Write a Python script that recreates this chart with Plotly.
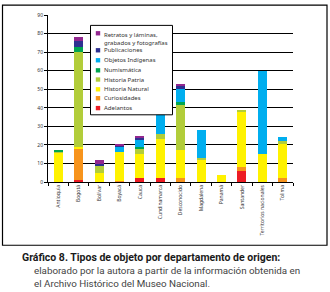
import plotly.graph_objects as go

categories = ["Antioquia", "Bogotá", "Bolívar", "Boyacá", "Cauca", "Cundinamarca",
              "Desconocido", "Magdalena", "Panamá", "Santander",
              "Territorios nacionales", "Tolima"]

adelantos     = [0, 1, 0, 0, 2, 2, 0, 0, 0, 6, 0, 0]
curiosidades  = [0, 17, 0, 0.5, 0, 0, 2, 0, 0, 2, 0, 2]
hist_natural  = [16, 1, 5, 15.5, 13, 21, 15, 12, 4, 30, 15, 19]
hist_patria   = [0.5, 51, 4, 0, 3, 3, 25, 1, 0, 1, 0, 1]
numismatica   = [0.5, 3, 0, 0, 1, 0, 1, 0, 0, 0, 0, 0]
objetos       = [0, 0, 0, 3, 4, 23, 7, 15, 0, 0, 45, 2]
publicaciones = [0, 3, 0.5, 0.5, 1, 0, 2, 0, 0, 0, 0, 0]
retratos      = [0, 2, 2.5, 0.5, 1, 0, 1, 0, 0, 0, 0, 0]

series_names = ["Adelantos", "Curiosidades", "Historia Natural", "Historia Patria",
                "Numismática", "Objetos Indígenas", "Publicaciones",
                "Retratos y láminas,<br>grabados y fotografías"]
series_values = [adelantos, curiosidades, hist_natural, hist_patria,
                 numismatica, objetos, publicaciones, retratos]
colors = ["#ed1c24", "#f7941d", "#fff200", "#b2cd3a",
          "#00a651", "#00aeef", "#2e3192", "#92278f"]

W, H = 330, 292
L, R, T, B = 48, 37, 13, 110
pw, ph = W - L - R, H - T - B

def px(x):
    return (x - L) / pw

def py(y):
    return (H - B - y) / ph

fig = go.Figure()
for name, vals, col in zip(series_names, series_values, colors):
    fig.add_trace(go.Bar(x=categories, y=vals, name=name,
                         marker=dict(color=col, line=dict(width=0)),
                         showlegend=False))

shapes = []
annotations = []

# outer frame
shapes.append(dict(type="rect", xref="paper", yref="paper",
                   x0=px(2.5), x1=px(327), y0=py(246), y1=py(3),
                   line=dict(color="black", width=1.2), fillcolor="rgba(0,0,0,0)",
                   layer="above"))

# manual legend box
shapes.append(dict(type="rect", xref="paper", yref="paper",
                   x0=px(90.5), x1=px(172.5), y0=py(114), y1=py(23.5),
                   line=dict(color="black", width=1), fillcolor="white",
                   layer="above"))

legend_y = [107.2, 97.2, 88.2, 78.3, 69.0, 58.8, 48.7, 31.5]
for name, col, yc in zip(series_names, colors, legend_y):
    shapes.append(dict(type="rect", xref="paper", yref="paper",
                       x0=px(95.8), x1=px(100.2), y0=py(yc + 2.2), y1=py(yc - 2.2),
                       line=dict(width=0), fillcolor=col, layer="above"))
    if "<br>" in name:
        annotations.append(dict(xref="paper", yref="paper", x=px(102), y=py(yc - 4),
                                text=name, showarrow=False, xanchor="left", yanchor="top",
                                align="left",
                                font=dict(family="Noto Sans", size=6, color="#333")))
    else:
        annotations.append(dict(xref="paper", yref="paper", x=px(102), y=py(yc),
                                text=name, showarrow=False, xanchor="left", yanchor="middle",
                                font=dict(family="Noto Sans", size=6, color="#333")))

# caption
annotations.append(dict(xref="paper", yref="paper", x=px(20), y=py(258),
                        text="<b>Gráfico 8. Tipos de objeto por departamento de origen:</b>",
                        showarrow=False, xanchor="left", yanchor="middle",
                        font=dict(family="Roboto", size=10.5, color="#1a1a1a")))
annotations.append(dict(xref="paper", yref="paper", x=px(32), y=py(272),
                        text="elaborado por la autora a partir de la información obtenida en",
                        showarrow=False, xanchor="left", yanchor="middle",
                        font=dict(family="Roboto", size=9.8, color="#444")))
annotations.append(dict(xref="paper", yref="paper", x=px(32), y=py(285),
                        text="el Archivo Histórico del Museo Nacional.",
                        showarrow=False, xanchor="left", yanchor="middle",
                        font=dict(family="Roboto", size=9.8, color="#444")))

fig.update_layout(
    width=W, height=H,
    margin=dict(l=L, r=R, t=T, b=B, pad=0),
    barmode="stack", bargap=0.56,
    plot_bgcolor="white", paper_bgcolor="white",
    shapes=shapes, annotations=annotations,
    showlegend=False,
    xaxis=dict(type="category", showline=True, linecolor="black", linewidth=1,
               ticks="outside", tickson="boundaries", ticklen=3, tickcolor="black",
               tickangle=-90, tickfont=dict(family="Noto Sans", size=5, color="#333"),
               showgrid=False, fixedrange=True),
    yaxis=dict(range=[0, 90], dtick=10, showline=True, linecolor="black", linewidth=1,
               ticks="outside", ticklen=3, tickcolor="black",
               showgrid=True, gridcolor="black", gridwidth=1, zeroline=False,
               tickfont=dict(family="Noto Sans", size=5, color="#333"), fixedrange=True),
)

fig.write_html("out.html", config={"displayModeBar": False},
               post_script="document.body.style.margin='0';document.body.style.overflow='hidden';")
